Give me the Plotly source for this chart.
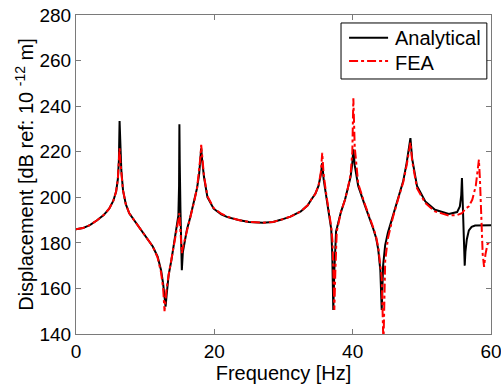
import plotly.graph_objects as go

# Analytical (black)
freq_an = [0, 1, 2, 3, 4, 4.8, 5.4, 5.8, 6.05, 6.2, 6.3, 6.4, 6.55, 6.8, 7.2, 7.7, 8.5, 9.2, 10.2, 11.1,
           11.8, 12.3, 12.6, 12.8, 12.95, 13.1, 13.4, 13.8, 14.1, 14.4, 14.6, 14.8, 14.9, 14.95, 15.0,
           15.1, 15.2, 15.3, 15.45, 15.7, 16.05, 16.5, 17.0, 17.5, 17.8, 18.0, 18.1, 18.25, 18.5, 19.0,
           19.9, 21.0, 21.9, 23.5, 25.0, 27.0, 28.5, 29.6, 31.0, 32.5, 33.5, 34.0, 34.6, 35.06, 35.4,
           35.6, 35.8, 36.2, 36.6, 36.9, 37.05, 37.2, 37.35, 37.6, 38.3, 38.9, 39.3, 39.7, 39.95, 40.1,
           40.3, 40.8, 41.7, 42.5, 43.0, 43.4, 43.7, 44.0, 44.2, 44.4, 44.7, 45.1, 45.8, 46.6, 47.3,
           47.8, 48.15, 48.35, 48.6, 49.3, 50.5, 51.9, 53.9, 55.1, 55.5, 55.7, 55.8, 55.9, 56.05, 56.2,
           56.3, 56.5, 56.8, 57.2, 57.7, 58.5, 60]
db_an = [186, 186.5, 187.8, 189.8, 192.2, 195, 198.5, 202.5, 208, 216, 233.5, 225, 212, 203, 197, 193,
         189.5, 186.5, 182.5, 178.4, 174, 168, 162, 155, 152, 157, 166, 172.5, 178.4, 183, 187, 192, 205,
         232, 215, 195, 180, 168, 176, 180, 186, 191, 197, 204, 210, 216, 221.5, 216, 209, 200, 195,
         192.5, 191.3, 190, 189.2, 188.8, 189.2, 190.1, 191.5, 193.8, 196.5, 198.9, 201.5, 205, 210,
         215, 208, 200, 192, 186, 175, 150.5, 168, 185, 193.5, 199, 204, 209, 215, 221, 214, 205, 197,
         190.5, 186, 182, 177, 168, 150.5, 170, 179, 184.5, 192, 200, 207, 215, 221, 226, 217, 205,
         198.2, 194.5, 192.7, 193.5, 196, 201, 208.5, 196, 180, 170, 176, 181.5, 185.5, 187, 187.6,
         187.7, 187.7]

# FEA (red)
freq_fea = [0, 1, 2, 3, 4, 4.8, 5.4, 5.8, 6.05, 6.2, 6.3, 6.4, 6.55, 6.8, 7.2, 7.7, 8.5, 9.2, 10.2, 11.1,
            11.8, 12.3, 12.6, 12.8, 12.95, 13.1, 13.4, 13.8, 14.1, 14.4, 14.6, 14.8, 14.95, 15.1, 15.2,
            15.3, 15.45, 15.7, 16.05, 16.5, 17.0, 17.5, 17.8, 18.0, 18.1, 18.25, 18.5, 19.0, 19.9, 21.0,
            21.9, 23.5, 25.0, 27.0, 28.5, 29.6, 31.0, 32.5, 33.5, 34.0, 34.6, 35.06, 35.4, 35.6, 35.8,
            36.2, 36.6, 36.9, 37.1, 37.2, 37.35, 37.5, 37.7, 38.3, 38.9, 39.3, 39.7, 39.95, 40.1, 40.3,
            40.8, 41.7, 42.5, 43.0, 43.4, 43.7, 44.0, 44.2, 44.45, 44.7, 45.1, 45.8, 46.6, 47.3, 47.8,
            48.15, 48.35, 48.6, 49.3, 50.5, 51.9, 53.9, 55.1, 55.8, 56.3, 56.8, 57.3, 57.8, 58.1, 58.25,
            58.4, 58.6, 58.8, 59.0, 59.2, 59.5, 60]
db_fea = [186, 186.5, 187.8, 189.8, 192.2, 195, 198.5, 202.5, 208, 214, 221.5, 216, 210, 203, 197, 193,
          189.5, 186.5, 182.5, 178.4, 173.5, 167, 160, 150, 155, 160, 166, 172.5, 178.4, 183, 186.5, 190,
          193, 186, 178, 175.5, 178, 181, 186.5, 191, 197, 204, 211, 218, 223, 217, 209.5, 200.5, 195.3,
          192.8, 191.5, 190, 189.2, 188.8, 189.2, 190.1, 191.5, 193.8, 196.5, 198.9, 201.5, 205, 211,
          219.5, 210, 201, 193, 187, 180, 165, 150.5, 168, 185, 193.5, 199, 204, 210, 220, 243.5, 222,
          206, 197.5, 191, 186.5, 182.5, 178, 170, 165, 135, 172, 182, 191, 199.5, 206.5, 214, 220,
          224, 216, 204, 197.5, 193.8, 192, 192.2, 193, 195, 196, 199, 205, 212, 216.5, 208, 190, 175,
          169.5, 175, 179.5, 181]

series_names = ["Analytical", "FEA"]

FONT = "Liberation Sans, Arial, sans-serif"

fig = go.Figure()
fig.add_trace(go.Scatter(x=freq_an, y=db_an, mode="lines", name=series_names[0],
                         line=dict(color="black", width=2)))
fig.add_trace(go.Scatter(x=freq_fea, y=db_fea, mode="lines", name=series_names[1],
                         line=dict(color="#ff0000", width=2, dash="dashdot")))

axis_common = dict(showline=True, linecolor="#7a7a7a", linewidth=1, mirror="ticks",
                   ticks="inside", ticklen=5, tickcolor="#7a7a7a", showgrid=False, zeroline=False,
                   automargin=False, ticklabeloverflow="allow",
                   tickfont=dict(family=FONT, size=19, color="black"))

# Legend drawn as a boxed key (paper coordinates)
shapes = [
    dict(type="rect", xref="paper", yref="paper", x0=0.6386, x1=0.990, y0=0.7994, y1=0.975,
         fillcolor="white", line=dict(color="black", width=1), layer="above"),
    dict(type="line", xref="paper", yref="paper", x0=0.658, x1=0.752, y0=0.9288, y1=0.9288,
         line=dict(color="black", width=2), layer="above"),
    dict(type="line", xref="paper", yref="paper", x0=0.658, x1=0.752, y0=0.856, y1=0.856,
         line=dict(color="#ff0000", width=2, dash="dashdot"), layer="above"),
]
annotations = [
    dict(text=series_names[0], xref="paper", yref="paper", x=0.764, y=0.928, xanchor="left",
         yanchor="middle", showarrow=False, font=dict(family=FONT, size=20, color="black")),
    dict(text=series_names[1], xref="paper", yref="paper", x=0.764, y=0.849, xanchor="left",
         yanchor="middle", showarrow=False, font=dict(family=FONT, size=20, color="black")),
]

fig.update_layout(
    width=501, height=385,
    margin=dict(l=76, r=10, t=15, b=51),
    paper_bgcolor="white", plot_bgcolor="white",
    font=dict(family=FONT, size=19, color="black"),
    xaxis=dict(range=[0, 60], tickvals=[0, 20, 40, 60],
               title=dict(text="Frequency [Hz]", font=dict(family=FONT, size=20), standoff=0),
               **axis_common),
    yaxis=dict(range=[140, 280], tickvals=[140, 160, 180, 200, 220, 240, 260, 280],
               title=dict(text="Displacement [dB ref: 10 <sup>-12</sup> m]",
                          font=dict(family=FONT, size=20), standoff=0),
               **axis_common),
    shapes=shapes,
    annotations=annotations,
    showlegend=False,
)

fig.write_html("out.html", config={"displayModeBar": False},
               post_script="document.body.style.margin='0';")
